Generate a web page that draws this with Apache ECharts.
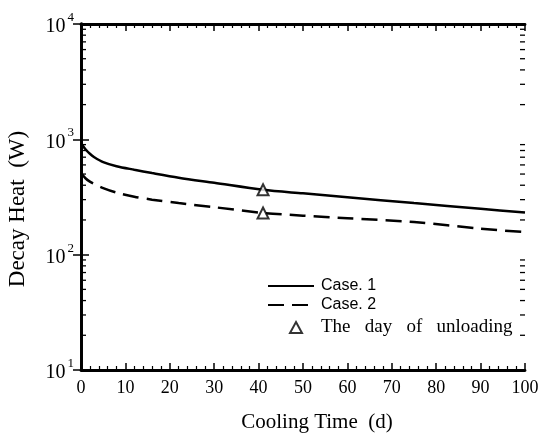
<!DOCTYPE html>
<html>
<head>
<meta charset="utf-8">
<script src="https://cdn.jsdelivr.net/npm/echarts@6/dist/echarts.min.js"></script>
<style>
  html, body { margin: 0; padding: 0; background: #fff; }
  #chart { width: 550px; height: 434px; }
</style>
</head>
<body>
<div id="chart"></div>
<script>
// Cooling time (days) sampled along the curves
const days = [0, 1, 2, 3, 5, 8, 12, 16, 22, 30, 41, 50, 60, 75, 90, 100];
// Decay heat (W)
const case1 = [930, 820, 750, 700, 635, 585, 545, 510, 465, 420, 365, 340, 315, 280, 250, 232];
const case2 = [510, 460, 430, 410, 378, 345, 318, 300, 280, 258, 230, 218, 207, 192, 168, 157];
// Unloading day markers
const unloadDay = [41, 41];
const unloadHeat = [365, 230];
// Log-axis decades and in-between minor tick values
const decades = [10, 100, 1000, 10000];
const minorMult = [2, 3, 4, 5, 6, 7, 8, 9];

const serif = '"Liberation Serif", "DejaVu Serif", serif';
const sans = '"Liberation Sans", Arial, sans-serif';

function pairs(xs, ys) { return xs.map((x, i) => [x, ys[i]]); }

const minorVals = [];
decades.slice(0, 3).forEach(d => minorMult.forEach(m => minorVals.push(m * d)));

const sup = { '10': '1', '100': '2', '1000': '3', '10000': '4' };

const chart = echarts.init(document.getElementById('chart'), null, { renderer: 'canvas' });

const axisLine = { show: true, lineStyle: { color: '#000', width: 2.8 } };
const hiddenSymbol = { opacity: 0 };

chart.setOption({
  animation: false,
  backgroundColor: '#fff',
  grid: { left: 81, right: 25, top: 24, bottom: 64, outerBoundsMode: 'none', containLabel: false },
  legend: [{
    orient: 'vertical',
    left: 267,
    top: 278,
    padding: 0,
    itemWidth: 46,
    itemHeight: 12,
    itemGap: 3,
    textStyle: { fontFamily: sans, fontSize: 16, color: '#000', padding: [0, 0, 0, 2] },
    data: [
      { name: 'Case. 1', itemStyle: hiddenSymbol },
      { name: 'Case. 2', itemStyle: hiddenSymbol }
    ]
  }, {
    orient: 'vertical',
    left: 289,
    top: 318,
    padding: 0,
    itemWidth: 12,
    itemHeight: 11,
    textStyle: { fontFamily: serif, fontSize: 19, color: '#000', padding: [0, 0, 0, 14] },
    formatter: () => 'The   day   of   unloading',
    data: [{ name: 'The day of unloading' }]
  }],
  xAxis: [{
    type: 'value', min: 0, max: 100, interval: 10,
    name: 'Cooling Time  (d)', nameLocation: 'middle', nameGap: 42,
    nameTextStyle: { fontFamily: serif, fontSize: 21, color: '#000', padding: [0, 0, 0, 28] },
    axisLine: axisLine,
    axisTick: { inside: true, length: 7, lineStyle: { color: '#000', width: 1.5 } },
    minorTick: { show: true, splitNumber: 5, length: 4, lineStyle: { color: '#000', width: 1.2 } },
    axisLabel: { fontFamily: serif, fontSize: 18, color: '#000', margin: 9 },
    splitLine: { show: false }
  }, {
    type: 'value', min: 0, max: 100, interval: 10, position: 'top',
    axisLine: axisLine,
    axisTick: { inside: true, length: 7, lineStyle: { color: '#000', width: 1.5 } },
    minorTick: { show: true, splitNumber: 5, length: 4, lineStyle: { color: '#000', width: 1.2 } },
    axisLabel: { show: false },
    splitLine: { show: false }
  }],
  yAxis: [{
    type: 'log', min: 10, max: 10000, logBase: 10,
    name: 'Decay Heat  (W)', nameLocation: 'middle', nameGap: 52,
    nameTextStyle: { fontFamily: serif, fontSize: 23, color: '#000', padding: [0, 24, 0, 0] },
    axisLine: axisLine,
    axisTick: { inside: true, length: 8, lineStyle: { color: '#000', width: 1.5 } },
    axisLabel: {
      margin: 7,
      formatter: v => '{b|10}{s|' + (sup[String(Math.round(v))] || '') + '}',
      rich: {
        b: { fontFamily: serif, fontSize: 20, color: '#000', padding: [6, 0, 0, 0] },
        s: { fontFamily: serif, fontSize: 13, color: '#000', verticalAlign: 'top', padding: [0, 0, 9, 2] }
      }
    },
    splitLine: { show: false }
  }, {
    type: 'log', min: 10, max: 10000, logBase: 10, position: 'right',
    axisLine: axisLine,
    axisTick: { inside: true, length: 8, lineStyle: { color: '#000', width: 1.5 } },
    axisLabel: { show: false },
    splitLine: { show: false }
  }],
  series: [
    {
      name: 'Case. 1', type: 'line', data: pairs(days, case1),
      smooth: 0.3, showSymbol: false, symbol: 'none',
      lineStyle: { color: '#000', width: 2.5, type: 'solid' },
      itemStyle: { color: '#000' }, z: 3
    },
    {
      name: 'Case. 2', type: 'line', data: pairs(days, case2),
      smooth: 0.3, showSymbol: false, symbol: 'none',
      lineStyle: { color: '#000', width: 2.5, type: [16, 8] },
      itemStyle: { color: '#000' }, z: 3
    },
    {
      name: 'The day of unloading', type: 'scatter', data: pairs(unloadDay, unloadHeat),
      symbol: 'triangle', symbolSize: 11,
      itemStyle: { color: '#fff', borderColor: '#000', borderWidth: 2 }, z: 5
    },
    {
      // minor ticks between decades on the left and right edges
      type: 'custom', silent: true, z: 4,
      data: minorVals.map(v => [0, v]),
      renderItem: function (params, api) {
        const p = api.coord([0, api.value(1)]);
        const q = api.coord([100, api.value(1)]);
        return {
          type: 'group',
          children: [
            { type: 'line', shape: { x1: p[0], y1: p[1], x2: p[0] + 5, y2: p[1] }, style: { stroke: '#000', lineWidth: 1.3 } },
            { type: 'line', shape: { x1: q[0], y1: q[1], x2: q[0] - 5, y2: q[1] }, style: { stroke: '#000', lineWidth: 1.3 } }
          ]
        };
      }
    }
  ]
});
</script>
</body>
</html>
